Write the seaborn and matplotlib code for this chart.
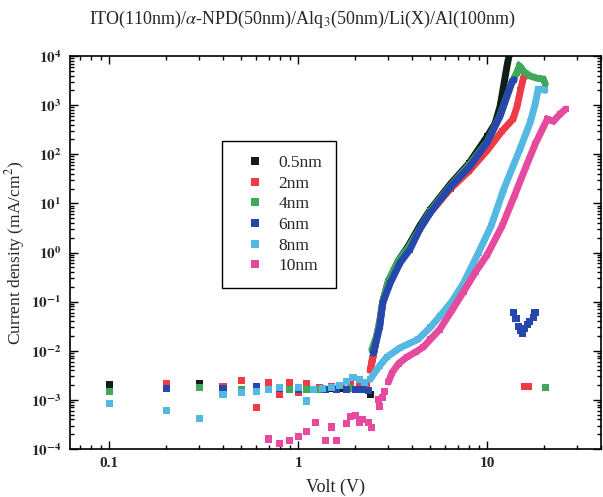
import numpy as np
import pandas as pd
import matplotlib
matplotlib.use("Agg")
import matplotlib.pyplot as plt
from matplotlib.lines import Line2D
from matplotlib.ticker import LogLocator, FixedLocator, FuncFormatter, NullFormatter
import seaborn as sns

# ---------------- data ----------------
series = ["0.5nm", "2nm", "4nm", "6nm", "8nm", "10nm"]
colors = ["#0f1f17", "#ee3b45", "#3fa85a", "#2647ab", "#55b8e2", "#e54a9f"]

# sparse scattered points (V, J)
v_pts_05 = [0.1, 0.3, 1.3, 1.5, 1.7, 1.9, 2.1, 2.4]
j_pts_05 = [2.1e-3, 2.2e-3, 1.7e-3, 1.7e-3, 1.7e-3, 1.7e-3, 1.7e-3, 1.3e-3]
v_pts_2 = [0.2, 0.4, 0.5, 0.6, 0.7, 0.8, 0.9, 1.0, 1.1, 1.3, 1.5, 1.7, 1.9, 2.1, 2.3, 15.7, 16.6]
j_pts_2 = [2.2e-3, 1.9e-3, 2.45e-3, 6.9e-4, 2.3e-3, 1.26e-3, 2.3e-3, 1.4e-3, 2.2e-3,
           1.8e-3, 1.9e-3, 2.0e-3, 2.2e-3, 1.9e-3, 2.0e-3, 1.85e-3, 1.85e-3]
v_pts_4 = [0.1, 0.3, 0.5, 0.9, 1.1, 1.3, 1.6, 1.9, 2.2, 20.3]
j_pts_4 = [1.45e-3, 1.76e-3, 1.6e-3, 1.6e-3, 1.6e-3, 1.6e-3, 1.7e-3, 1.7e-3, 1.65e-3, 1.75e-3]
v_pts_6 = [0.2, 0.4, 0.6, 0.8, 1.0, 1.2, 1.4, 1.6, 1.8, 2.0, 2.2, 2.35,
           13.7, 14.2, 14.6, 15.0, 15.3, 15.8, 16.3, 16.8, 17.5, 17.9]
j_pts_6 = [1.67e-3, 1.67e-3, 1.9e-3, 1.7e-3, 1.6e-3, 1.6e-3, 1.65e-3, 1.6e-3, 1.6e-3,
           1.65e-3, 1.6e-3, 1.55e-3,
           0.06, 0.045, 0.031, 0.026, 0.023, 0.028, 0.034, 0.04, 0.047, 0.06]
v_pts_8 = [0.1, 0.2, 0.3, 0.4, 0.5, 0.6, 0.7, 0.8, 1.0, 1.1, 1.2, 1.35, 1.5, 1.65,
           1.8, 1.95, 2.1, 2.25]
j_pts_8 = [8.3e-4, 6e-4, 4.1e-4, 1.3e-3, 1.4e-3, 1.5e-3, 1.6e-3, 1.76e-3, 1.76e-3,
           9.5e-4, 1.6e-3, 1.7e-3, 1.8e-3, 2.0e-3, 2.4e-3, 2.8e-3, 2.6e-3, 2.3e-3]
v_pts_10 = [0.7, 0.8, 0.9, 1.0, 1.1, 1.23, 1.4, 1.5, 1.6, 1.8, 1.9, 2.0, 2.1, 2.2,
            2.35, 2.45, 2.65, 2.7, 2.8, 2.85]
j_pts_10 = [1.6e-4, 1.27e-4, 1.5e-4, 1.8e-4, 2.3e-4, 3.5e-4, 1.5e-4, 2.8e-4, 1.5e-4,
            3.3e-4, 4.5e-4, 4.9e-4, 3.5e-4, 4e-4, 3.4e-4, 2.7e-4, 1e-3, 7.2e-4, 1.1e-3, 1.45e-3]

# dense measured curves (V, J)
v_cur_05 = [2.45, 2.6, 2.7, 2.8, 3.0, 3.4, 3.8, 4.4, 5.0, 6.4, 8.0, 10.0, 11.0, 11.7,
            12.2, 12.7, 13.1, 13.5]
j_cur_05 = [5.7e-3, 0.018, 0.035, 0.1, 0.26, 0.7, 1.3, 3.5, 7.5, 25, 65, 230, 420, 950,
            2400, 6000, 1.1e4, 2e4]
v_cur_2 = [2.4, 2.5, 2.6, 2.7, 2.8, 3.0, 3.4, 3.8, 4.4, 5.0, 6.4, 8.0, 10.0, 12.0, 13.7,
           14.4, 15.0, 15.6]
j_cur_2 = [4e-3, 8.3e-3, 0.02, 0.04, 0.09, 0.23, 0.6, 1.1, 3.0, 6.5, 20, 45, 120, 300,
           520, 950, 2000, 3800]
v_cur_4 = [2.45, 2.6, 2.7, 2.8, 3.0, 3.4, 3.8, 5.0, 6.4, 8.0, 10.0, 11.7, 12.7, 13.5,
           14.3, 14.8, 15.1, 15.5, 16.9, 18.5, 19.8, 20.3]
j_cur_4 = [0.0105, 0.02, 0.04, 0.1, 0.26, 0.7, 1.2, 7, 23, 60, 180, 620, 1500, 2900,
           4500, 6200, 5800, 4900, 3900, 3500, 3400, 2700]
v_cur_6 = [2.5, 2.6, 2.7, 2.8, 3.07, 3.46, 3.9, 4.4, 5.0, 6.4, 8.1, 10.0, 11.7, 12.7,
           13.5, 13.9]
j_cur_6 = [9e-3, 0.017, 0.031, 0.095, 0.24, 0.62, 1.15, 3.0, 6.5, 22, 57, 175, 600, 1500,
           2900, 3300]
v_cur_8 = [2.4, 2.7, 2.95, 3.46, 4.3, 5.0, 5.6, 6.5, 7.5, 9.0, 10.5, 12.2, 14.9, 16.9,
           18.0, 18.6, 19.5, 20.2]
j_cur_8 = [2.6e-3, 5e-3, 7.5e-3, 0.0115, 0.017, 0.03, 0.05, 0.1, 0.24, 1.0, 3.5, 19, 127,
           450, 1100, 2100, 2100, 2000]
v_cur_10 = [3.0, 3.14, 3.4, 3.77, 4.2, 4.6, 5.0, 5.6, 6.5, 7.5, 8.7, 10.0, 12.0, 14.0,
            16.0, 18.0, 20.8, 22.4, 24.3, 26.0]
j_cur_10 = [2.3e-3, 3.6e-3, 5.5e-3, 7.5e-3, 9.5e-3, 0.012, 0.017, 0.027, 0.066, 0.16,
            0.41, 0.9, 3.5, 15, 55, 165, 520, 470, 660, 830]

x_ticks = [0.1, 1, 10]
x_tick_labels = ["0.1", "1", "10"]
y_exponents = [-4, -3, -2, -1, 0, 1, 2, 3, 4]

title = r"ITO(110nm)/$\alpha$-NPD(50nm)/Alq$_3$(50nm)/Li(X)/Al(100nm)"
xlabel = "Volt (V)"
ylabel = r"Current density (mA/cm$^2$)"

# ---------------- build tables ----------------
pts = [(v_pts_05, j_pts_05), (v_pts_2, j_pts_2), (v_pts_4, j_pts_4),
       (v_pts_6, j_pts_6), (v_pts_8, j_pts_8), (v_pts_10, j_pts_10)]
curs = [(v_cur_05, j_cur_05), (v_cur_2, j_cur_2), (v_cur_4, j_cur_4),
        (v_cur_6, j_cur_6), (v_cur_8, j_cur_8), (v_cur_10, j_cur_10)]

df_pts = pd.concat([pd.DataFrame({"V": v, "J": j, "Li": s}) for (v, j), s in zip(pts, series)],
                   ignore_index=True)
df_cur = pd.concat([pd.DataFrame({"V": v, "J": j, "Li": s}) for (v, j), s in zip(curs, series)],
                   ignore_index=True)
palette = dict(zip(series, colors))

# ---------------- plot ----------------
sns.set_style("ticks")
plt.rcParams["font.family"] = ["Liberation Serif", "DejaVu Serif"]
plt.rcParams["mathtext.fontset"] = "stix"

fig = plt.figure(figsize=(6.03, 4.97), dpi=100)
ax = fig.add_axes([70 / 603, 1 - 449 / 497, (601 - 70) / 603, (449 - 56) / 497])

ax.set_xscale("log")
ax.set_yscale("log")

sns.scatterplot(data=df_pts, x="V", y="J", hue="Li", palette=palette, hue_order=series,
                marker="s", s=26, linewidth=0, legend=False, ax=ax)
sns.lineplot(data=df_cur, x="V", y="J", hue="Li", palette=palette, hue_order=series,
             sort=False, estimator=None, linewidth=5, marker="s", markersize=5,
             markeredgewidth=0, legend=False, ax=ax)
for ln in ax.get_lines():
    ln.set_solid_joinstyle("miter")

ax.set_xlim(0.062, 40)
ax.set_ylim(1e-4, 1e4)

ax.xaxis.set_major_locator(FixedLocator(x_ticks))
ax.xaxis.set_major_formatter(FuncFormatter(lambda v, p: x_tick_labels[x_ticks.index(v)] if v in x_ticks else ""))
ax.xaxis.set_minor_locator(LogLocator(base=10, subs=np.arange(2, 10), numticks=20))
ax.xaxis.set_minor_formatter(NullFormatter())
ax.yaxis.set_major_locator(FixedLocator([10.0 ** e for e in y_exponents]))
ax.yaxis.set_major_formatter(FuncFormatter(lambda v, p: r"$\mathbf{10^{%d}}$" % int(round(np.log10(v)))))
ax.yaxis.set_minor_locator(LogLocator(base=10, subs=np.arange(2, 10), numticks=20))
ax.yaxis.set_minor_formatter(NullFormatter())

ax.tick_params(which="both", direction="in", top=True, right=True, color="black", width=1)
ax.tick_params(which="major", length=6, labelsize=11, pad=6)
ax.tick_params(which="minor", length=3)
for lab in ax.get_xticklabels():
    lab.set_fontweight("bold")
for sp in ax.spines.values():
    sp.set_linewidth(1.2)
    sp.set_color("black")

ax.set_xlabel(xlabel, fontsize=13, labelpad=6)
ax.set_ylabel(ylabel, fontsize=12.5, labelpad=3)
fig.text(302 / 603, 1 - 19 / 497, title, ha="center", va="center", fontsize=13)

handles = [Line2D([0], [0], marker="s", linestyle="none", color=c, markersize=6,
                  markeredgewidth=0) for c in colors]
leg = ax.legend(handles, series, loc="upper left", bbox_to_anchor=((222 - 70) / 531, (449 - 141) / 393),
                borderaxespad=0, fontsize=12.5, frameon=True, fancybox=False, edgecolor="black",
                framealpha=1, labelspacing=0.26, handlelength=2.2, handletextpad=0.25,
                borderpad=0.8)
leg.get_frame().set_linewidth(1.0)

fig.savefig("out.png", dpi=100)
